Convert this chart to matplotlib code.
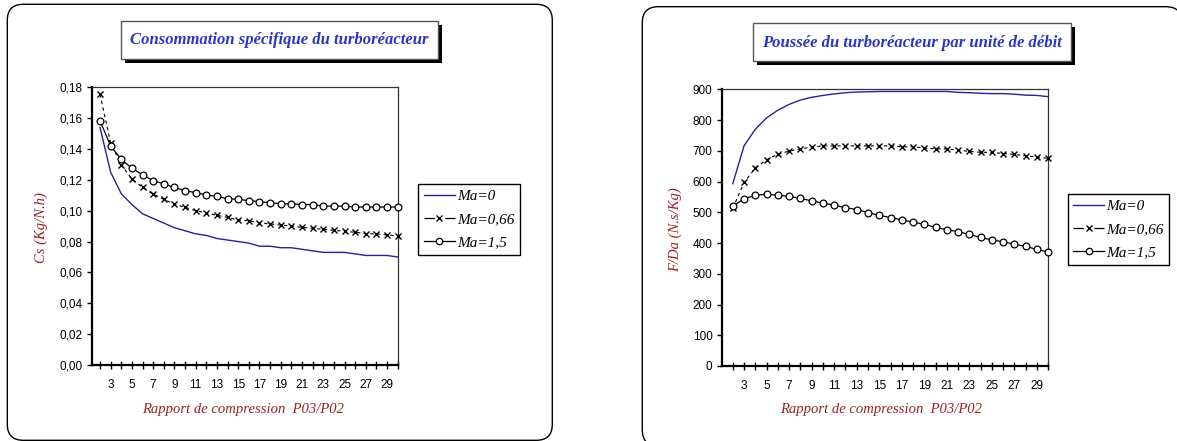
import matplotlib
matplotlib.use("Agg")
import matplotlib.pyplot as plt
from matplotlib.patches import FancyBboxPatch, Rectangle
from matplotlib.lines import Line2D
from matplotlib.ticker import FuncFormatter

# ---------------- data ----------------
ratio = list(range(2, 31))

cs_ma0 = [0.154, 0.125, 0.111, 0.104, 0.098, 0.095, 0.092, 0.089, 0.087, 0.085,
          0.084, 0.082, 0.081, 0.080, 0.079, 0.077, 0.077, 0.076, 0.076, 0.075,
          0.074, 0.073, 0.073, 0.073, 0.072, 0.071, 0.071, 0.071, 0.070]
cs_ma066 = [0.1754, 0.1440, 0.1296, 0.1207, 0.1151, 0.1108, 0.1074, 0.1043, 0.1022, 0.1000,
            0.0987, 0.0970, 0.0957, 0.0940, 0.0935, 0.0922, 0.0914, 0.0907, 0.0901, 0.0892,
            0.0886, 0.0880, 0.0873, 0.0867, 0.0860, 0.0852, 0.0850, 0.0843, 0.0837]
cs_ma15 = [0.1583, 0.1420, 0.1333, 0.1275, 0.1233, 0.1194, 0.1175, 0.1151, 0.1130, 0.1117,
           0.1102, 0.1093, 0.1078, 0.1074, 0.1065, 0.1059, 0.1052, 0.1045, 0.1045, 0.1040,
           0.1040, 0.1030, 0.1030, 0.1030, 0.1024, 0.1024, 0.1024, 0.1024, 0.1024]

fd_ma0 = [593, 716, 770, 807, 832, 851, 865, 874, 880, 885,
          889, 891, 892, 893, 893, 893, 893, 893, 893, 893,
          890, 889, 887, 886, 886, 884, 881, 880, 876]
fd_ma066 = [513, 597, 644, 671, 689, 699, 706, 712, 716, 716,
            716, 716, 716, 716, 716, 713, 713, 709, 706, 706,
            702, 698, 695, 695, 691, 688, 684, 680, 675]
fd_ma15 = [520, 544, 555, 559, 555, 552, 545, 537, 530, 523,
           515, 509, 499, 490, 483, 475, 468, 461, 451, 443,
           437, 428, 418, 410, 404, 396, 389, 379, 370]

series_labels = ["Ma=0", "Ma=0,66", "Ma=1,5"]
x_tick_labels = [str(v) for v in range(3, 30, 2)]

# ---------------- figure ----------------
W, H = 1177, 441
DPI = 100
fig = plt.figure(figsize=(W / DPI, H / DPI), dpi=DPI)
fig.patch.set_facecolor("white")

SERIF = ["Liberation Serif", "DejaVu Serif"]
SANS = ["Liberation Sans", "DejaVu Sans"]
BLUE_LINE = "#22229c"
TITLE_BLUE = "#2a35c2"
LABEL_RED = "#9a2226"

# background axes in pixel coords
bg = fig.add_axes([0, 0, 1, 1], zorder=0)
bg.set_xlim(0, W)
bg.set_ylim(H, 0)
bg.axis("off")


def panel(x0, y0, x1, y1):
    p = FancyBboxPatch((x0, y0), x1 - x0, y1 - y0,
                       boxstyle="round,pad=0,rounding_size=16",
                       fc="white", ec="black", lw=1.0, zorder=1)
    bg.add_patch(p)


def title_box(x0, y0, x1, y1, text):
    sh = Rectangle((x0 + 4, y0 + 4), x1 - x0, y1 - y0, fc="black", ec="none", zorder=2)
    bx = Rectangle((x0, y0), x1 - x0, y1 - y0, fc="white", ec="#555555", lw=1.0, zorder=3)
    bg.add_patch(sh)
    bg.add_patch(bx)
    bg.text((x0 + x1) / 2, (y0 + y1) / 2 + 0.5, text, ha="center", va="center",
            family=SERIF, fontsize=12, fontweight="bold", fontstyle="italic",
            color=TITLE_BLUE, zorder=4)


panel(7.3, 4.3, 552.3, 440.3)
panel(642.3, 6.7, 1182, 446)
title_box(120.7, 20.7, 438.3, 58.7, "Consommation spécifique du turboréacteur")
title_box(753.3, 23.3, 1070.7, 61.0, "Poussée du turboréacteur par unité de débit")


def make_axes(x0, x1, yt, yb):
    return fig.add_axes([x0 / W, 1 - yb / H, (x1 - x0) / W, (yb - yt) / H], zorder=5)


def style_axes(ax, xmin):
    ax.set_facecolor("white")
    ax.set_xlim(xmin, 30)
    for s in ("left", "bottom"):
        ax.spines[s].set_linewidth(1.6)
        ax.spines[s].set_color("black")
    for s in ("top", "right"):
        ax.spines[s].set_linewidth(0.9)
        ax.spines[s].set_color("#333333")
    ax.set_xticks(list(range(3, 30, 2)))
    ax.set_xticklabels(x_tick_labels)
    ax.set_xticks(list(range(2, 31)), minor=True)
    ax.tick_params(axis="x", which="both", direction="inout", length=5.5, width=1.0,
                   pad=7.5, labelsize=8.5)
    ax.tick_params(axis="y", which="major", direction="out", length=3.5, width=1.0,
                   pad=3.0, labelsize=8.5)
    for lab in ax.get_xticklabels() + ax.get_yticklabels():
        lab.set_family(SANS)


def plot_series(ax, y0, y1, y2):
    ax.plot(ratio, y0, color=BLUE_LINE, lw=1.0, zorder=3, clip_on=False)
    ax.plot(ratio, y1, color="black", lw=0.8, ls=(0, (3, 3)), marker="x", ms=4.0,
            mew=1.0, zorder=4, clip_on=False)
    ax.plot(ratio, y2, color="black", lw=0.9, marker="o", ms=4.9, mfc="white",
            mec="black", mew=0.9, zorder=5, clip_on=False)


def legend(ax, x0, y0):
    handles = [
        Line2D([], [], color=BLUE_LINE, lw=1.0),
        Line2D([], [], color="black", lw=0.9, ls=(0, (8.3, 8.3)), marker="x", ms=4.0, mew=1.0),
        Line2D([], [], color="black", lw=0.9, marker="o", ms=4.6, mfc="white", mec="black", mew=0.9),
    ]
    leg = ax.legend(handles, series_labels, loc="upper left",
                    bbox_to_anchor=(x0 / W, 1 - y0 / H), bbox_transform=fig.transFigure,
                    frameon=True, fancybox=False, edgecolor="black", framealpha=1,
                    borderaxespad=0, borderpad=0.35, labelspacing=0.62,
                    handlelength=2.05, handletextpad=0.15, numpoints=1,
                    prop={"family": SERIF, "style": "italic", "size": 11})
    leg.get_frame().set_linewidth(1.0)
    leg.set_zorder(10)
    return leg


# ---------------- left chart ----------------
axL = make_axes(91.5, 397.7, 87.3, 365.0)
style_axes(axL, 1.2)
axL.set_ylim(0, 0.18)
axL.set_yticks([i * 0.02 for i in range(10)])
axL.yaxis.set_major_formatter(FuncFormatter(lambda v, p: f"{v:.2f}".replace(".", ",")))
for lab in axL.get_yticklabels():
    lab.set_family(SANS)
plot_series(axL, cs_ma0, cs_ma066, cs_ma15)
legend(axL, 418.3, 184.3)
bg.text(41, 228, "Cs (Kg/N.h)", rotation=90, ha="center", va="center",
        family=SERIF, fontstyle="italic", fontsize=10.5, color=LABEL_RED, zorder=6)
bg.text(242.7, 410, "Rapport de compression  P03/P02", ha="center", va="center",
        family=SERIF, fontstyle="italic", fontsize=10.5, color=LABEL_RED, zorder=6)

# ---------------- right chart ----------------
axR = make_axes(721.5, 1048.3, 89.3, 366.0)
style_axes(axR, 1.0)
axR.set_ylim(0, 900)
axR.set_yticks(list(range(0, 901, 100)))
for lab in axR.get_yticklabels():
    lab.set_family(SANS)
plot_series(axR, fd_ma0, fd_ma066, fd_ma15)
legend(axR, 1067.7, 194.0)
bg.text(675, 230, "F/Da (N.s/Kg)", rotation=90, ha="center", va="center",
        family=SERIF, fontstyle="italic", fontsize=10.5, color=LABEL_RED, zorder=6)
bg.text(881.5, 410, "Rapport de compression  P03/P02", ha="center", va="center",
        family=SERIF, fontstyle="italic", fontsize=10.5, color=LABEL_RED, zorder=6)

fig.savefig("out.png", dpi=DPI, facecolor="white")
